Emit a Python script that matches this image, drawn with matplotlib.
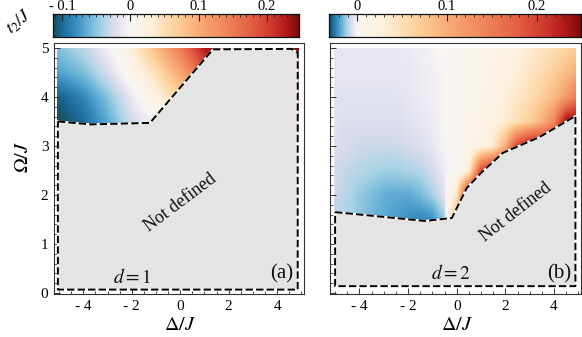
import numpy as np
import matplotlib
matplotlib.use('Agg')
import matplotlib.pyplot as plt
from matplotlib.colors import LinearSegmentedColormap, TwoSlopeNorm
from matplotlib.patches import Polygon, Rectangle
from matplotlib.ticker import MultipleLocator, FixedLocator

plt.rcParams['font.family'] = ['Liberation Serif', 'DejaVu Serif']
plt.rcParams['mathtext.fontset'] = 'stix'

# ---------------- data ----------------
# panel (a), d = 1 : t2/J on a coarse regular grid
x_nodes_a = [-5, -4, -3, -2, -1, 0, 1, 2, 3, 4, 5]
y_nodes_a = [3.5, 4.0, 4.5, 5.0]
t2_a = [
    [-0.113, -0.100, -0.065, -0.028, -0.002, 0.020, 0.050, 0.080, 0.100, 0.120, 0.140],
    [-0.105, -0.085, -0.052, -0.012, 0.025, 0.065, 0.110, 0.150, 0.200, 0.240, 0.247],
    [-0.070, -0.055, -0.025, 0.012, 0.050, 0.105, 0.180, 0.220, 0.240, 0.247, 0.247],
    [-0.052, -0.035, -0.006, 0.030, 0.085, 0.150, 0.230, 0.247, 0.247, 0.247, 0.247],
]

# panel (b), d = 2
x_nodes_b = [-5, -4.5, -4, -3.5, -3, -2.5, -2, -1.5, -1, -0.5, 0,
             0.5, 1, 1.5, 2, 2.5, 3, 3.5, 4, 4.5, 5]
y_nodes_b = [1.5, 2.0, 2.5, 3.0, 3.5, 4.0, 4.5, 5.0]
t2_b = [
    [-0.009, -0.011, -0.013, -0.016, -0.018, -0.020, -0.022, -0.023, -0.022, -0.013, 0.100,
     0.249, 0.249, 0.249, 0.249, 0.249, 0.249, 0.249, 0.249, 0.249, 0.249],
    [-0.008, -0.010, -0.013, -0.015, -0.017, -0.018, -0.018, -0.016, -0.012, -0.005, 0.040,
     0.249, 0.249, 0.249, 0.249, 0.249, 0.249, 0.249, 0.249, 0.249, 0.249],
    [-0.007, -0.009, -0.010, -0.011, -0.012, -0.012, -0.011, -0.010, -0.007, -0.003, 0.003,
     0.030, 0.200, 0.249, 0.249, 0.249, 0.249, 0.249, 0.249, 0.249, 0.249],
    [-0.006, -0.007, -0.008, -0.008, -0.008, -0.008, -0.007, -0.006, -0.004, -0.001, 0.003,
     0.010, 0.020, 0.035, 0.100, 0.210, 0.249, 0.249, 0.249, 0.249, 0.249],
    [-0.005, -0.006, -0.006, -0.006, -0.006, -0.006, -0.005, -0.004, -0.003, 0.000, 0.003,
     0.009, 0.016, 0.025, 0.036, 0.050, 0.068, 0.095, 0.140, 0.249, 0.249],
    [-0.005, -0.005, -0.005, -0.005, -0.005, -0.005, -0.004, -0.003, -0.002, 0.000, 0.003,
     0.008, 0.014, 0.021, 0.030, 0.040, 0.053, 0.070, 0.090, 0.120, 0.160],
    [-0.004, -0.004, -0.004, -0.004, -0.004, -0.004, -0.004, -0.003, -0.002, 0.000, 0.003,
     0.007, 0.012, 0.017, 0.024, 0.032, 0.042, 0.054, 0.068, 0.085, 0.105],
    [-0.004, -0.004, -0.004, -0.004, -0.004, -0.004, -0.003, -0.002, -0.001, 0.001, 0.003,
     0.006, 0.010, 0.014, 0.020, 0.027, 0.035, 0.043, 0.052, 0.062, 0.072],
]

# "not defined" region boundaries
bound_a_x = [-5.05, -3.7, -1.25, 1.35, 4.6, 4.85, 4.85, -5.05, -5.05]
bound_a_y = [3.50, 3.44, 3.47, 4.97, 4.98, 4.90, 0.07, 0.07, 3.50]
bound_b_x = [-5.0, -1.32, -0.2, 0.41, 1.0, 1.9, 3.4, 4.88, 4.88, -5.0, -5.0]
bound_b_y = [1.65, 1.47, 1.53, 2.14, 2.45, 2.86, 3.18, 3.61, 0.14, 0.14, 1.65]

# colour-bar ranges and ticks
cbar_a = (-0.113, 0.247)
cbar_b = (-0.031, 0.249)
cb_ticks_a = [-0.1, 0.0, 0.1, 0.2]
cb_labels_a = ['- 0.1', '0', '0.1', '0.2']
cb_ticks_b = [0.0, 0.1, 0.2]
cb_labels_b = ['0', '0.1', '0.2']

x_ticks = [-4, -2, 0, 2, 4]
x_ticklabels = ['- 4', '- 2', '0', '2', '4']
y_ticks = [0, 1, 2, 3, 4, 5]

# ---------------- style ----------------
cmap = LinearSegmentedColormap.from_list('t2', [
    (0.00, '#154f5b'), (0.06, '#1d6b9c'), (0.15, '#3b90c3'), (0.235, '#6db5d8'),
    (0.32, '#acd3e6'), (0.39, '#d8dbec'), (0.46, '#efecf4'), (0.50, '#f8f6f3'),
    (0.56, '#fdf0dc'), (0.62, '#fdd7a6'), (0.68, '#fbb982'), (0.74, '#f59a68'),
    (0.80, '#ee7f55'), (0.86, '#e35f43'), (0.92, '#cf3a2f'), (0.965, '#b01a1a'),
    (1.00, '#7f0c0c')])

W, H = 582, 337
fig = plt.figure(figsize=(W / 100, H / 100), dpi=100)

def fr(x0, y0, x1, y1):
    return [x0 / W, 1 - y1 / H, (x1 - x0) / W, (y1 - y0) / H]

XLIM = (-5.21, 5.11)
YLIM = (-0.02, 5.10)

def panel(rect, xnodes, ynodes, vals, bx, by, rng, data_rect, ylabels, texts):
    ax = fig.add_axes(rect)
    norm = TwoSlopeNorm(vmin=rng[0], vcenter=0.0, vmax=rng[1])
    dx = xnodes[1] - xnodes[0]
    dy = ynodes[1] - ynodes[0]
    ext = [xnodes[0] - dx / 2, xnodes[-1] + dx / 2, ynodes[0] - dy / 2, ynodes[-1] + dy / 2]
    im = ax.imshow(np.array(vals), origin='lower', extent=ext, aspect='auto',
                   cmap=cmap, norm=norm, interpolation='bilinear',
                   interpolation_stage='data')
    clip = Rectangle((data_rect[0], data_rect[1]), data_rect[2] - data_rect[0],
                     data_rect[3] - data_rect[1], transform=ax.transData)
    im.set_clip_path(clip)
    ax.add_patch(Polygon(np.column_stack([bx, by]), closed=True,
                         facecolor='#e4e4e4', edgecolor='none', zorder=2))
    ax.plot(bx, by, color='white', lw=1.4, zorder=3)
    ax.plot(bx, by, color='black', lw=1.4, ls=(0, (3.8, 1.6)), zorder=4)
    ax.set_xlim(*XLIM)
    ax.set_ylim(*YLIM)
    ax.xaxis.set_major_locator(FixedLocator(x_ticks))
    ax.set_xticklabels(x_ticklabels)
    ax.xaxis.set_minor_locator(MultipleLocator(0.5))
    ax.yaxis.set_major_locator(FixedLocator(y_ticks))
    ax.yaxis.set_minor_locator(MultipleLocator(0.2))
    if ylabels:
        ax.set_yticklabels([str(v) for v in y_ticks])
    else:
        ax.set_yticklabels([])
    ax.tick_params(which='both', direction='in', color='#333333', labelsize=11,
                   top=False, right=False)
    ax.tick_params(which='major', length=4, width=0.7)
    ax.tick_params(which='minor', length=2, width=0.6)
    ax.tick_params(axis='x', pad=4.5)
    ax.tick_params(axis='y', pad=4)
    for s in ax.spines.values():
        s.set_linewidth(0.8)
        s.set_color('#333333')
    for (tx, ty, s, fs, rot) in texts:
        ax.text(tx, ty, s, fontsize=fs, rotation=rot, ha='center', va='center',
                zorder=5, color='#111111')
    return ax, norm

def colorbar(rect, rng, norm, ticks, labels):
    cax = fig.add_axes(rect)
    grad = np.linspace(rng[0], rng[1], 600)[None, :]
    cax.imshow(grad, extent=[rng[0], rng[1], 0, 1], aspect='auto', cmap=cmap, norm=norm)
    cax.set_xlim(*rng)
    cax.set_ylim(0, 1)
    cax.xaxis.tick_top()
    cax.set_xticks(ticks)
    cax.set_xticklabels(labels)
    cax.xaxis.set_minor_locator(MultipleLocator(0.01))
    cax.set_yticks([])
    cax.tick_params(which='both', direction='in', color='#222222', labelsize=10.5, pad=1)
    cax.tick_params(which='major', length=5, width=0.8)
    cax.tick_params(which='minor', length=2.5, width=0.6)
    for s in cax.spines.values():
        s.set_linewidth(0.9)
        s.set_color('#111111')

ax_a, norm_a = panel(fr(54, 43, 304, 294), x_nodes_a, y_nodes_a, t2_a,
                     bound_a_x, bound_a_y, cbar_a,
                     (-5.08, 0.05, 4.87, 5.0), True,
                     [(0.0, 1.84, 'Not defined', 13, 37),
                      (-2.0, 0.32, r'$d=1$', 14, 0),
                      (4.2, 0.40, '(a)', 15, 0)])
ax_b, norm_b = panel(fr(330, 43, 581, 294), x_nodes_b, y_nodes_b, t2_b,
                     bound_b_x, bound_b_y, cbar_b,
                     (-5.03, 0.12, 4.9, 5.0), False,
                     [(2.45, 1.65, 'Not defined', 13, 38),
                      (-0.25, 0.40, r'$d=2$', 14, 0),
                      (4.2, 0.40, '(b)', 15, 0)])

colorbar(fr(53, 14, 299, 37), cbar_a, norm_a, cb_ticks_a, cb_labels_a)
colorbar(fr(329, 14, 581, 37), cbar_b, norm_b, cb_ticks_b, cb_labels_b)

# axis labels placed in figure pixels
fig.text(180 / W, 1 - 326 / H, r'$\Delta/J$', fontsize=14.5, ha='center', va='center')
fig.text(457 / W, 1 - 326 / H, r'$\Delta/J$', fontsize=14.5, ha='center', va='center')
fig.text(24 / W, 1 - 157 / H, r'$\Omega/J$', fontsize=14.5, rotation=90,
         ha='center', va='center')
fig.text(19 / W, 1 - 22 / H, r'$t_2/J$', fontsize=13, rotation=40, ha='center', va='center')

fig.savefig('out.png', dpi=100)
